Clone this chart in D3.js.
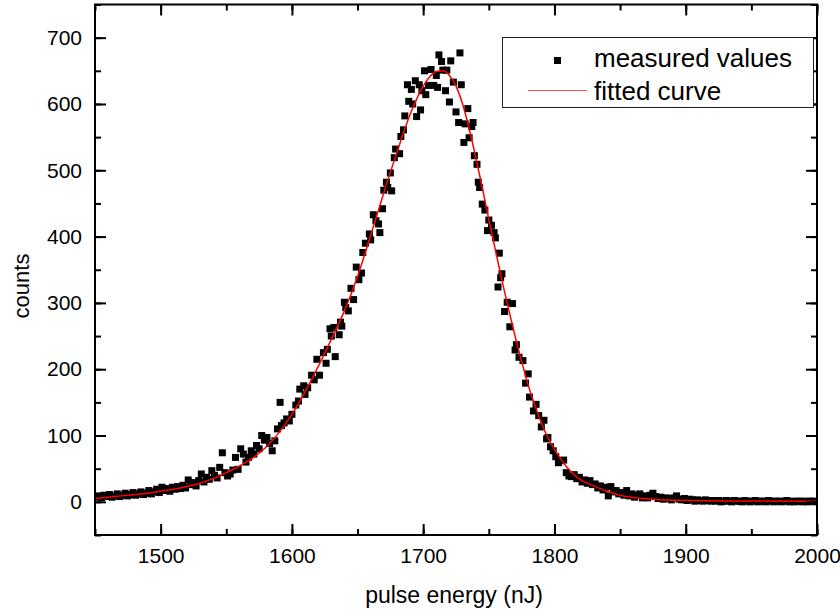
<!DOCTYPE html>
<html>
<head>
<meta charset="utf-8">
<script src="https://cdn.jsdelivr.net/npm/d3@7"></script>
<style>
  body { margin: 0; background: #fff; }
  svg { display: block; font-family: "Liberation Sans", Arial, sans-serif; }
</style>
</head>
<body>
<svg id="chart" width="840" height="616"></svg>
<script>
// measured histogram points [pulse energy (nJ), counts]
const measured = [
  [1451,7],[1453,9],[1455,6],[1457,10],[1459,8],[1461,11],[1463,7],[1465,9],[1467,12],[1469,8],
  [1471,10],[1473,13],[1475,9],[1477,11],[1479,14],[1481,10],[1483,12],[1485,15],[1487,11],[1489,13],
  [1491,17],[1493,12],[1495,15],[1497,19],[1499,14],[1501,22],[1503,17],[1505,20],[1507,16],[1509,22],
  [1511,19],[1513,23],[1515,20],[1517,25],[1519,21],[1521,33],[1523,26],[1525,29],[1527,24],[1529,32],
  [1531,42],[1533,30],[1535,37],[1537,34],[1539,47],[1541,40],[1543,36],[1545,52],[1547,74],[1549,44],
  [1551,39],[1553,42],[1555,48],[1557,67],[1559,49],[1561,80],[1563,72],[1565,60],[1567,67],[1569,77],
  [1571,72],[1573,85],[1575,80],[1577,100],[1579,93],[1581,97],[1583,88],[1585,77],[1587,92],[1589,110],
  [1591,150],[1592,115],[1594,119],[1596,125],[1598,122],[1600,132],
  [1603,146],[1605,152],[1606,170],[1609,175],[1610,162],[1612,172],[1615,191],[1617,184],[1619,215],[1621,191],
  [1624,225],[1626,209],[1627,230],[1629,261],[1630,250],[1632,263],[1633,219],[1636,252],[1637,271],[1638,265],
  [1640,301],[1641,293],[1643,288],[1645,322],[1647,305],[1649,354],[1651,335],[1653,345],[1654,376],[1656,390],
  [1659,404],[1660,395],[1662,433],[1664,424],[1666,419],[1667,406],[1669,442],[1670,470],[1672,482],[1673,474],
  [1675,496],[1676,469],[1678,519],[1679,532],[1682,525],[1683,551],[1685,561],[1686,582],[1688,629],[1689,604],
  [1691,622],[1692,600],[1694,635],[1695,581],[1697,629],[1698,591],[1699,620],[1701,650],[1702,614],[1704,628],
  [1706,652],[1708,628],[1710,643],[1711,625],[1712,674],[1714,664],[1715,651],[1717,620],[1718,651],[1720,603],
  [1721,665],[1723,633],[1725,588],[1727,572],[1728,677],[1729,629],[1731,542],[1732,570],[1734,593],[1735,549],
  [1737,566],[1738,572],[1739,522],[1741,509],[1742,482],[1743,474],[1745,449],[1747,440],[1749,409],[1750,425],
  [1752,417],[1754,406],[1755,398],[1757,324],[1758,375],[1759,338],[1760,344],[1762,287],[1764,301],[1766,264],
  [1768,299],[1770,229],[1771,237],[1773,218],[1776,213],[1778,179],[1780,193],[1781,158],[1784,137],[1786,147],
  [1788,130],[1790,113],[1792,123],[1794,95],[1795,97],[1797,83],[1799,77],[1801,68],[1803,59],[1805,62],
  [1807,63],[1809,44],[1811,39],
  [1813,38],[1815,41],[1817,35],[1819,37],[1821,30],[1823,33],[1825,28],[1827,32],[1829,26],[1831,27],
  [1833,21],[1835,24],[1837,18],[1839,22],[1841,9],[1843,23],[1845,15],[1847,17],[1849,12],[1851,14],
  [1853,10],[1855,17],[1857,9],[1859,12],[1861,7],[1863,10],[1865,12],[1867,6],[1869,9],[1871,6],
  [1873,10],[1875,13],[1877,8],[1879,5],[1881,7],[1883,4],[1885,6],[1887,5],[1889,3],[1891,6],
  [1893,9],[1895,4],[1897,3],[1899,5],[1901,2],[1903,4],[1905,3],[1907,1],[1909,3],[1911,2],
  [1913,1],[1915,3],[1917,2],[1919,1],[1921,2],[1923,1],[1925,2],[1927,0],[1929,1],[1931,2],
  [1933,1],[1935,0],[1937,2],[1939,1],[1941,1],[1943,0],[1945,2],[1947,1],[1949,0],[1951,1],
  [1953,2],[1955,0],[1957,1],[1959,1],[1961,0],[1963,2],[1965,1],[1967,0],[1969,1],[1971,1],
  [1973,0],[1975,1],[1977,2],[1979,0],[1981,1],[1983,0],[1985,1],[1987,1],[1989,0],[1991,1],
  [1993,0],[1995,1],[1997,1],[1999,0]
];

// fitted curve
const fitEnergy = [1450,1460,1470,1480,1490,1500,1510,1520,1530,1540,1550,1560,1570,1580,1590,1600,
  1610,1620,1630,1640,1650,1660,1670,1680,1690,1700,1705,1710,1715,1720,1725,1730,1735,1740,1745,
  1750,1755,1760,1765,1770,1775,1780,1785,1790,1795,1800,1805,1810,1815,1820,1830,1840,1850,1860,
  1870,1880,1890,1900,1925,1950,2000];
const fitCounts = [5,7,9,11,13,16,19,23,28,35,44,54,66,82,104,132,
  166,204,245,288,340,402,466,527,584,627,641,649,650,643,627,600,563,520,474,
  426,380,334,291,250,212,176,146,119,97,79,64,51,41,33,24,16,10,6.5,
  4.5,3.2,2.4,1.9,1.4,1.2,1];

const xTicks = [1500, 1600, 1700, 1800, 1900, 2000];
const yTicks = [0, 100, 200, 300, 400, 500, 600, 700];
const legendLabels = ["measured values", "fitted curve"];
const xTitle = "pulse energy (nJ)";
const yTitle = "counts";

const plotLeft = 95, plotRight = 817, plotTop = 4.5, plotBottom = 535;

const x = d3.scaleLinear().domain([1450, 2000]).range([plotLeft, plotRight]);
const y = d3.scaleLinear().domain([-50, 750]).range([plotBottom, plotTop]);

const svg = d3.select("#chart");

svg.append("defs").append("clipPath").attr("id", "plot")
  .append("rect")
    .attr("x", plotLeft).attr("y", plotTop)
    .attr("width", plotRight - plotLeft).attr("height", plotBottom - plotTop);

const plot = svg.append("g").attr("clip-path", "url(#plot)");

plot.append("g")
  .selectAll("rect")
  .data(measured)
  .join("rect")
    .attr("x", d => x(d[0]) - 3.5)
    .attr("y", d => y(d[1]) - 3.5)
    .attr("width", 7)
    .attr("height", 7)
    .attr("fill", "#000");

const line = d3.line()
  .x(d => x(d[0]))
  .y(d => y(d[1]))
  .curve(d3.curveMonotoneX);

plot.append("path")
  .datum(fitEnergy.map((e, i) => [e, fitCounts[i]]))
  .attr("fill", "none")
  .attr("stroke", "#ff0000")
  .attr("stroke-width", 1.5)
  .attr("d", line);

// axes: major ticks inward with labels, minor ticks every 50
function styleAxis(g) {
  g.select(".domain").remove();
  g.selectAll("line").attr("stroke", "#000").attr("stroke-width", 2);
  g.selectAll("text").attr("fill", "#000").style("font-size", "21px");
}

svg.append("g")
  .attr("transform", `translate(0,${plotBottom})`)
  .call(d3.axisBottom(x).tickValues(xTicks).tickSize(-11).tickPadding(13).tickFormat(d3.format("d")))
  .call(styleAxis);
svg.append("g")
  .attr("transform", `translate(0,${plotBottom})`)
  .call(d3.axisBottom(x).ticks(11).tickSize(-6).tickFormat(""))
  .call(styleAxis);
svg.append("g")
  .attr("transform", `translate(0,${plotTop})`)
  .call(d3.axisTop(x).tickValues(xTicks).tickSize(-11).tickFormat(""))
  .call(styleAxis);
svg.append("g")
  .attr("transform", `translate(0,${plotTop})`)
  .call(d3.axisTop(x).ticks(11).tickSize(-6).tickFormat(""))
  .call(styleAxis);

svg.append("g")
  .attr("transform", `translate(${plotLeft},0)`)
  .call(d3.axisLeft(y).tickValues(yTicks).tickSize(-11).tickPadding(13).tickFormat(d3.format("d")))
  .call(styleAxis);
svg.append("g")
  .attr("transform", `translate(${plotLeft},0)`)
  .call(d3.axisLeft(y).ticks(16).tickSize(-6).tickFormat(""))
  .call(styleAxis);
svg.append("g")
  .attr("transform", `translate(${plotRight},0)`)
  .call(d3.axisRight(y).tickValues(yTicks).tickSize(-11).tickFormat(""))
  .call(styleAxis);
svg.append("g")
  .attr("transform", `translate(${plotRight},0)`)
  .call(d3.axisRight(y).ticks(16).tickSize(-6).tickFormat(""))
  .call(styleAxis);

svg.append("rect")
  .attr("x", plotLeft).attr("y", plotTop)
  .attr("width", plotRight - plotLeft).attr("height", plotBottom - plotTop)
  .attr("fill", "none")
  .attr("stroke", "#000")
  .attr("stroke-width", 2);

// axis titles
svg.append("text")
  .attr("x", (plotLeft + plotRight) / 2 - 2)
  .attr("y", 603)
  .attr("text-anchor", "middle")
  .style("font-size", "23px")
  .text(xTitle);

svg.append("text")
  .attr("transform", "translate(29,286) rotate(-90)")
  .attr("text-anchor", "middle")
  .style("font-size", "22px")
  .text(yTitle);

// legend
const legend = svg.append("g");
legend.append("rect")
  .attr("x", 502.5).attr("y", 37.5)
  .attr("width", 311).attr("height", 70)
  .attr("fill", "#fff")
  .attr("stroke", "#222")
  .attr("stroke-width", 1);
legend.append("rect")
  .attr("x", 554).attr("y", 57)
  .attr("width", 7).attr("height", 7)
  .attr("fill", "#000");
legend.append("line")
  .attr("x1", 528).attr("x2", 587)
  .attr("y1", 90.5).attr("y2", 90.5)
  .attr("stroke", "#ff5050")
  .attr("stroke-width", 1);
legend.selectAll("text.lbl")
  .data(legendLabels)
  .join("text")
    .attr("class", "lbl")
    .attr("x", 594)
    .attr("y", (d, i) => 67 + i * 33)
    .style("font-size", "26px")
    .attr("fill", "#000")
    .text(d => d);
</script>
</body>
</html>
